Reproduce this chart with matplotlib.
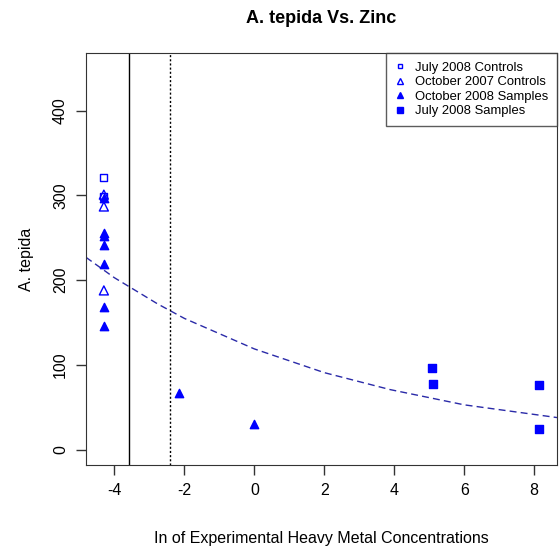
import matplotlib
matplotlib.use("Agg")
import matplotlib.pyplot as plt
from matplotlib.lines import Line2D

plt.rcParams["font.family"] = ["Liberation Sans", "DejaVu Sans"]
plt.rcParams["axes.unicode_minus"] = False

# open squares: July 2008 controls
jul08_ctrl_x = [-4.30, -4.30]
jul08_ctrl_y = [321, 299]

# open triangles: October 2007 controls
oct07_ctrl_x = [-4.30, -4.30, -4.30]
oct07_ctrl_y = [301, 287, 188]

# filled triangles: October 2008 samples
oct08_x = [-4.30, -4.30, -4.30, -4.30, -4.30, -4.30, -4.30, -2.16, 0.0]
oct08_y = [297, 256, 252, 242, 219, 168, 146, 67, 30]

# filled squares: July 2008 samples
jul08_x = [5.07, 5.12, 8.15, 8.15]
jul08_y = [97, 78, 76, 25]

# dashed fitted curve
fit_x = [-4.81, -4.0, -2.76, -2.0, 0.0, 2.0, 3.88, 6.0, 8.65]
fit_y = [227, 203, 172, 155, 119, 91, 71, 53, 38]

solid_vline = -3.59
dotted_vline = -2.41

legend_labels = ["July 2008 Controls", "October 2007 Controls",
                 "October 2008 Samples", "July 2008 Samples"]

blue = "#0000ff"

fig = plt.figure(figsize=(5.6, 5.5), dpi=100)
ax = fig.add_axes([0.1536, 0.1545, 0.841, 0.749])

ax.plot(fit_x, fit_y, linestyle=(0, (5, 3)), color="#2a2aa8", linewidth=1)
ax.axvline(solid_vline, color="black", linewidth=1)
ax.axvline(dotted_vline, color="black", linewidth=1, linestyle=(0, (1.5, 1.5)))

ax.scatter(jul08_ctrl_x, jul08_ctrl_y, marker="s", s=26, facecolors="none",
           edgecolors=blue, linewidths=1, zorder=3)
ax.scatter(oct07_ctrl_x, oct07_ctrl_y, marker="^", s=42, facecolors="none",
           edgecolors=blue, linewidths=1, zorder=3)
ax.scatter(oct08_x, oct08_y, marker="^", s=36, color=blue, zorder=3)
ax.scatter(jul08_x, jul08_y, marker="s", s=30, color=blue, zorder=3)

ax.set_xlim(-4.81, 8.65)
ax.set_ylim(-18, 468)
ax.set_xticks([-4, -2, 0, 2, 4, 6, 8])
ax.set_yticks([0, 100, 200, 300, 400])
ax.set_yticklabels(["0", "100", "200", "300", "400"], rotation=90, va="center")
ax.tick_params(length=7, width=1, labelsize=11.5, color="#333333", pad=6)
for sp in ax.spines.values():
    sp.set_color("#333333")

ax.set_title("A. tepida Vs. Zinc", fontsize=13, fontweight="bold", pad=22)
ax.set_xlabel("In of Experimental Heavy Metal Concentrations", fontsize=11.5, labelpad=24)
ax.set_ylabel("A. tepida", fontsize=11.5, labelpad=14)

handles = [
    Line2D([], [], marker="s", linestyle="none", markerfacecolor="none",
           markeredgecolor=blue, markersize=3.5),
    Line2D([], [], marker="^", linestyle="none", markerfacecolor="none",
           markeredgecolor=blue, markersize=5),
    Line2D([], [], marker="^", linestyle="none", color=blue, markersize=4),
    Line2D([], [], marker="s", linestyle="none", color=blue, markersize=4),
]
leg = ax.legend(handles, legend_labels, loc="upper right", fontsize=9.4,
                frameon=True, fancybox=False, borderaxespad=0,
                handletextpad=0.7, labelspacing=0.18, borderpad=0.65,
                handlelength=0.9)
leg.get_frame().set_edgecolor("#333333")
leg.get_frame().set_linewidth(1)

fig.savefig("out.png", dpi=100)
